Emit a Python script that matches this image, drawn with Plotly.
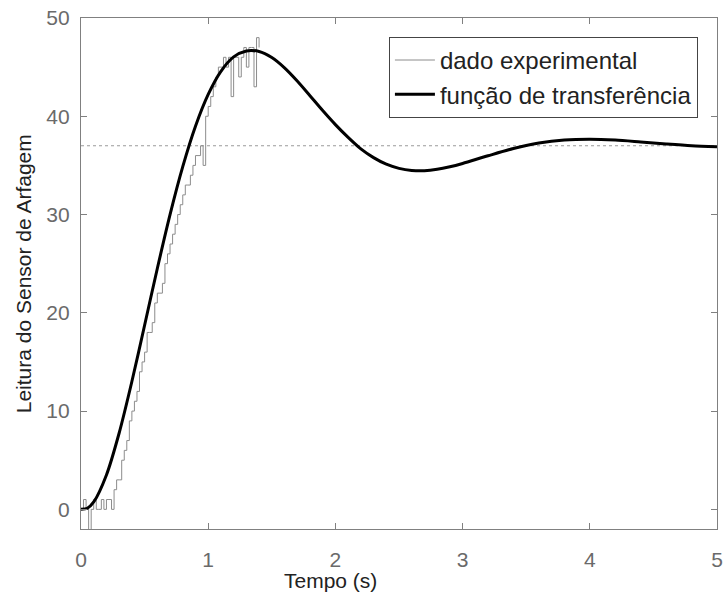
import plotly.graph_objects as go

t_exp = [0.00, 0.02, 0.04, 0.06, 0.08, 0.10, 0.12, 0.14, 0.16, 0.18, 0.20, 0.22, 0.24,
         0.26, 0.28, 0.30, 0.32, 0.34, 0.36, 0.38, 0.40, 0.42, 0.44, 0.46, 0.48, 0.50,
         0.52, 0.54, 0.56, 0.58, 0.60, 0.62, 0.64, 0.66, 0.68, 0.70, 0.72, 0.74, 0.76,
         0.78, 0.80, 0.82, 0.84, 0.86, 0.88, 0.90, 0.92, 0.94, 0.96, 0.98, 1.00, 1.02,
         1.04, 1.06, 1.08, 1.10, 1.12, 1.14, 1.16, 1.18, 1.20, 1.22, 1.24, 1.26, 1.28,
         1.30, 1.32, 1.34, 1.36, 1.38, 1.40]
y_exp = [0, 1, 0, -2.5, 0, 1, 0, 0, 1, 0, 1, 1, 0,
         2, 3, 3, 5, 6, 7, 9, 10, 11, 12, 14, 15, 16,
         18, 18, 19, 21, 22, 22, 23, 25, 26, 27, 28, 29, 30,
         31, 32, 33, 33, 34, 35, 36, 36, 37, 35, 40, 41, 42,
         43, 44, 45, 45, 46, 45, 46, 42, 46, 46, 44, 46, 47,
         45, 47, 47, 43, 48, 47]

# Fitted transfer-function response
t_tf = [0.0, 0.05, 0.1, 0.2, 0.3, 0.4, 0.5, 0.6, 0.7, 0.8, 0.9, 1.0, 1.1, 1.2, 1.3,
        1.4, 1.5, 1.6, 1.7, 1.8, 1.9, 2.0, 2.1, 2.2, 2.3, 2.4, 2.5, 2.6, 2.7, 2.8,
        2.9, 3.0, 3.2, 3.4, 3.6, 3.8, 4.0, 4.2, 4.4, 4.6, 4.8, 5.0]
y_tf = [0.0, 0.11, 0.75, 3.50, 7.77, 13.01, 18.73, 24.51, 29.99, 34.87, 38.98, 42.22,
        44.57, 46.04, 46.65, 46.59, 45.97, 44.92, 43.58, 42.09, 40.58, 39.15, 37.85,
        36.68, 35.79, 35.12, 34.70, 34.49, 34.46, 34.60, 34.86, 35.20, 35.98, 36.72,
        37.28, 37.59, 37.67, 37.58, 37.39, 37.19, 37.01, 36.89]

steady_value = 37
x_ticks = [0, 1, 2, 3, 4, 5]
y_ticks = [0, 10, 20, 30, 40, 50]

FONT = "Liberation Sans, Arial, sans-serif"

fig = go.Figure()
fig.add_trace(go.Scatter(x=[0, 5], y=[steady_value, steady_value], mode="lines",
                         line=dict(color="#9a9a9a", width=1.2, dash="dot"),
                         showlegend=False, hoverinfo="skip"))
fig.add_trace(go.Scatter(x=t_exp, y=y_exp, mode="lines", name="dado experimental",
                         line=dict(color="#8c8c8c", width=1, shape="hv")))
fig.add_trace(go.Scatter(x=t_tf, y=y_tf, mode="lines", name="função de transferência",
                         line=dict(color="#000000", width=3, shape="spline", smoothing=0.8)))

axis_common = dict(showgrid=False, zeroline=False, showline=True, linecolor="#808080",
                   linewidth=1.2, mirror="ticks", ticks="inside", ticklen=6,
                   tickcolor="#808080", tickwidth=1, automargin=False,
                   tickfont=dict(family=FONT, size=21, color="#6a6a6a"))

fig.update_layout(
    width=723, height=603,
    margin=dict(l=81, r=6, t=18, b=74),
    paper_bgcolor="white", plot_bgcolor="white",
    font=dict(family=FONT, color="#222222"),
    xaxis=dict(range=[0, 5], tickvals=x_ticks, ticklabelstandoff=12, **axis_common),
    yaxis=dict(range=[-2, 50], tickvals=y_ticks, ticklabelstandoff=6, **axis_common),
    legend=dict(x=0.97, y=0.963, xanchor="right", yanchor="top",
                bgcolor="white", bordercolor="#444444", borderwidth=1,
                font=dict(family=FONT, size=24, color="#222222"),
                tracegroupgap=0, itemwidth=40),
    annotations=[
        dict(text="Tempo (s)", xref="paper", yref="paper", x=0.393, y=-0.10,
             xanchor="center", yanchor="middle", showarrow=False,
             font=dict(family=FONT, size=21, color="#222222")),
        dict(text="Leitura do Sensor de Arfagem", xref="paper", yref="paper",
             x=-0.09, y=0.5, xanchor="center", yanchor="middle", textangle=-90,
             showarrow=False, font=dict(family=FONT, size=21, color="#222222")),
    ],
)

fig.write_html("out.html")
